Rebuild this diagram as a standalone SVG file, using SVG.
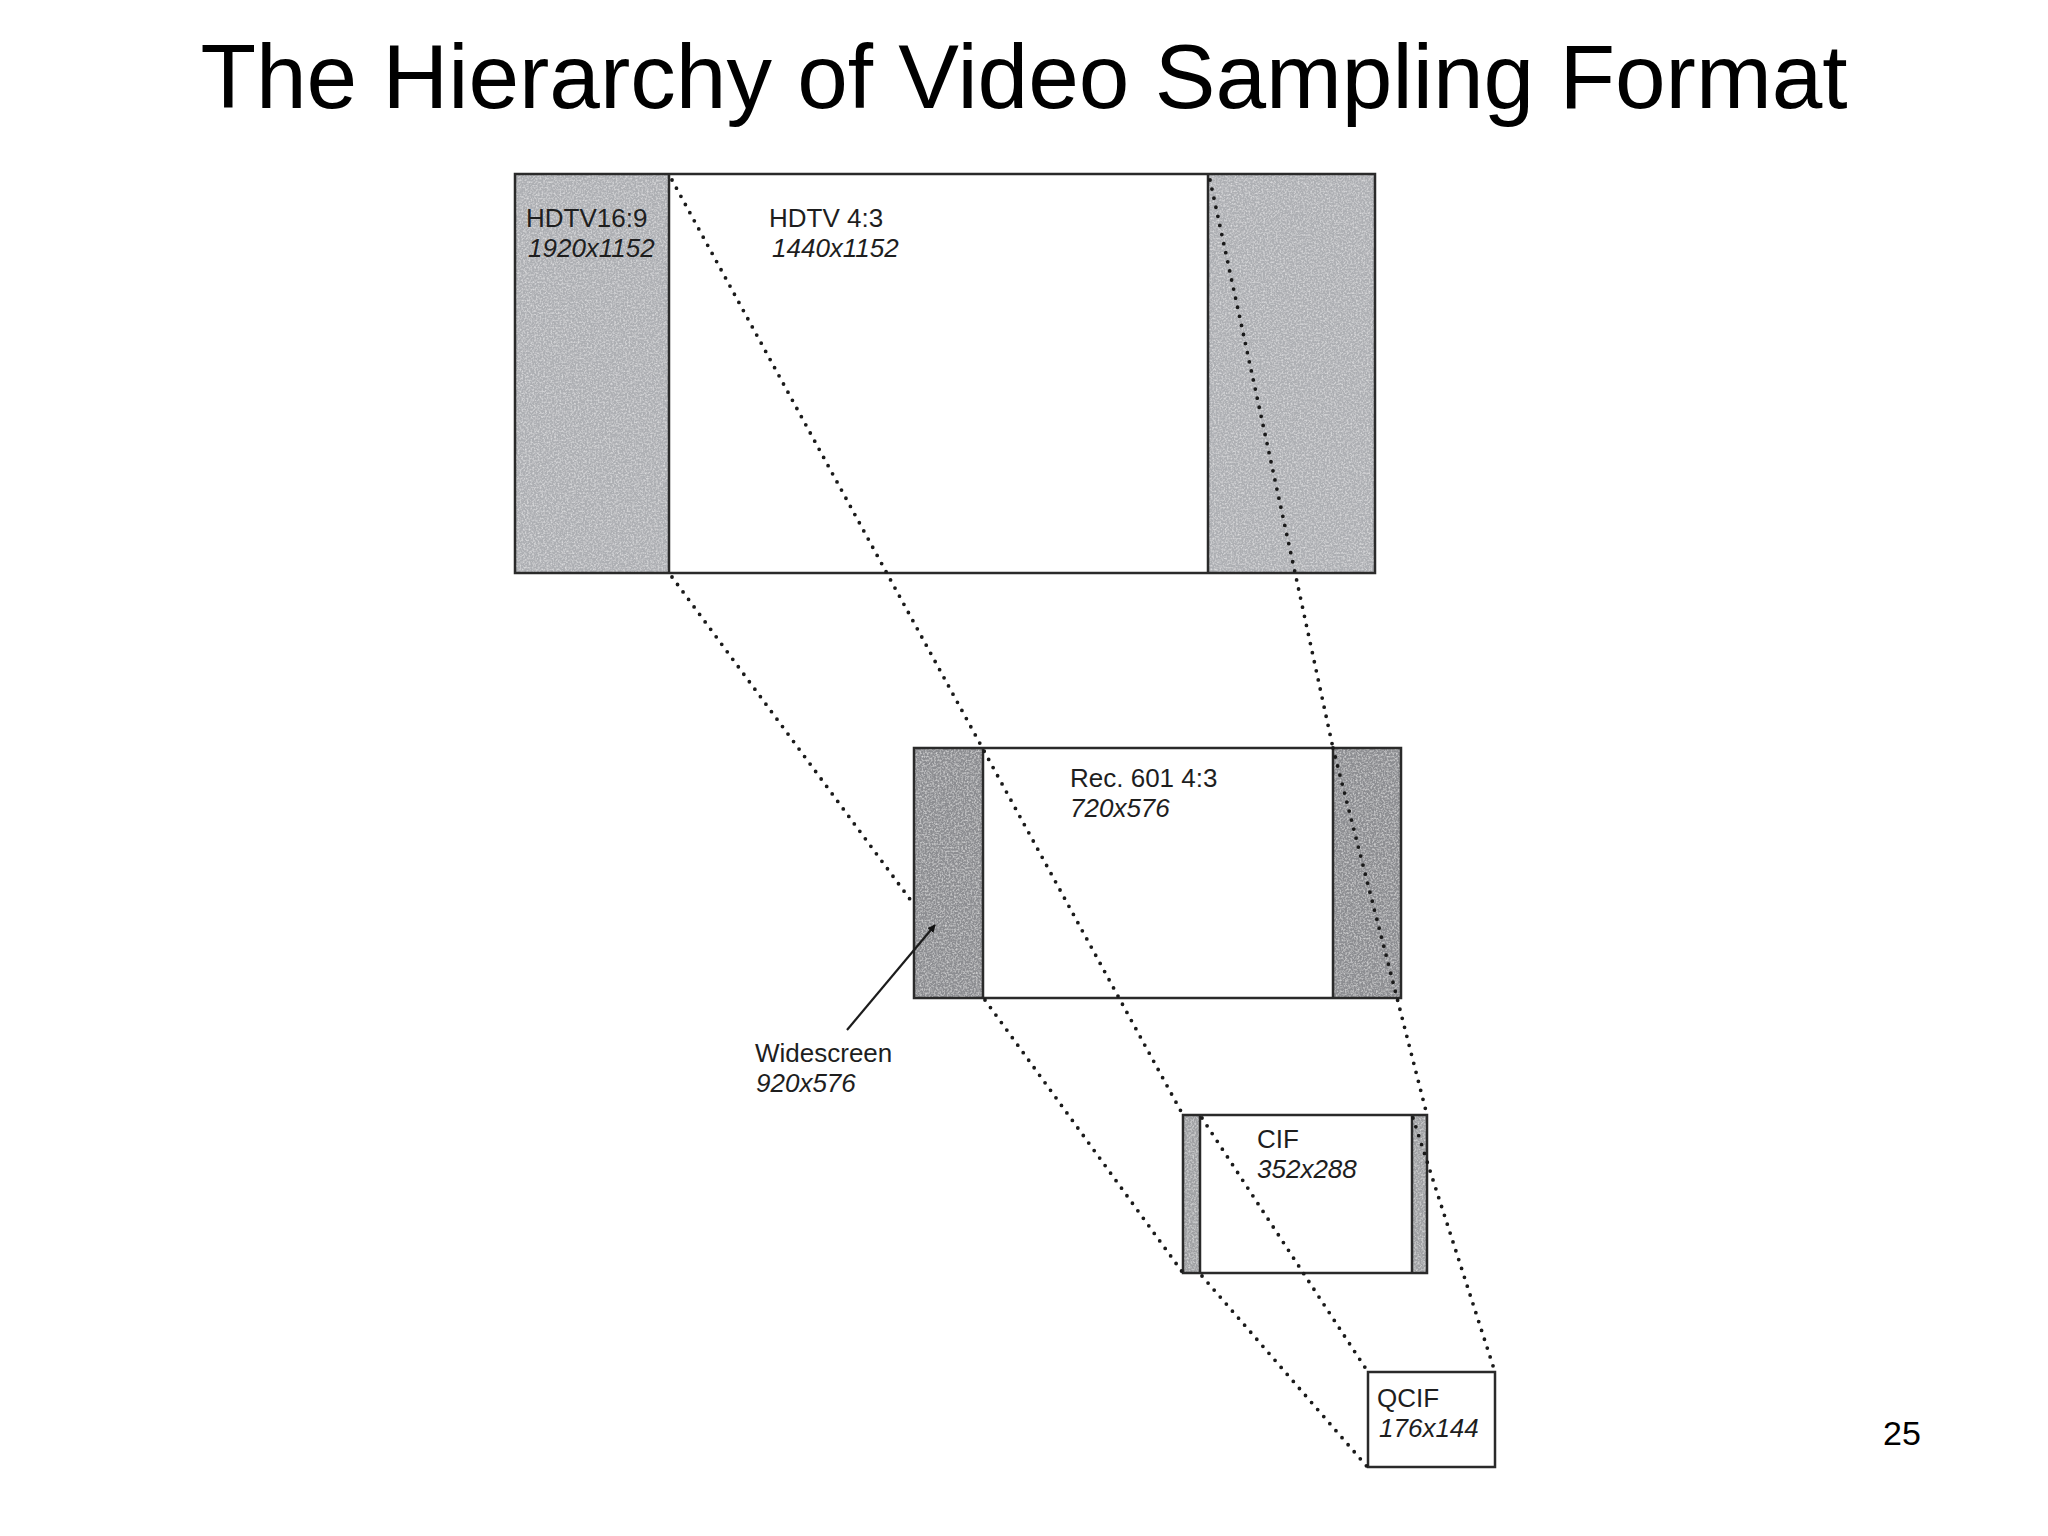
<svg xmlns="http://www.w3.org/2000/svg" width="2048" height="1536" viewBox="0 0 2048 1536">
  <defs>
    <style>
      .title { font-family: "Liberation Sans", Arial, sans-serif; font-size: 91px; fill: #000; }
      .page { font-family: "Liberation Sans", Arial, sans-serif; font-size: 34px; fill: #000; }
      .lbl { font-family: "Liberation Sans", Arial, sans-serif; font-size: 26px; fill: #1e1e1e; }
      .dim { font-style: italic; }
      .frame { fill: none; stroke: #2a2a2a; stroke-width: 2.5; }
      .white { fill: #fff; }
      .edge { stroke: #2a2a2a; stroke-width: 2.5; }
      .bandL { fill: #adafb3; filter: url(#grain); }
      .bandD { fill: #8c8d91; filter: url(#grain); }
      .bandM { fill: #9fa0a3; filter: url(#grain); }
      .dot { fill: none; stroke: #1a1a1a; stroke-width: 3.8; stroke-linecap: round; stroke-dasharray: 0 9.3; }
      .arrow { fill: none; stroke: #1c1c1c; stroke-width: 2.2; }
    </style>
    <filter id="grain" x="0" y="0" width="100%" height="100%">
      <feTurbulence type="fractalNoise" baseFrequency="0.55" numOctaves="2" seed="7" result="n"/>
      <feColorMatrix in="n" type="matrix" values="0 0 0 0 1  0 0 0 0 1  0 0 0 0 1  0 0 0 1.1 -0.45" result="w"/>
      <feComposite in="w" in2="SourceGraphic" operator="in" result="wi"/>
      <feMerge>
        <feMergeNode in="SourceGraphic"/>
        <feMergeNode in="wi"/>
      </feMerge>
    </filter>
    <marker id="head" viewBox="0 0 10 10" refX="9" refY="5" markerWidth="8" markerHeight="8" markerUnits="userSpaceOnUse" orient="auto">
      <path d="M0,0 L10,5 L0,10 z" fill="#111"/>
    </marker>
  </defs>

  <rect width="2048" height="1536" fill="#fff"/>

  <text class="title" x="1024" y="108" text-anchor="middle">The Hierarchy of Video Sampling Format</text>

  <g id="hdtv">
    <rect class="white" x="515" y="174" width="860" height="399"/>
    <rect class="bandL" x="515" y="174" width="154" height="399"/>
    <rect class="bandL" x="1208" y="174" width="167" height="399"/>
    <line class="edge" x1="669" y1="174" x2="669" y2="573"/>
    <line class="edge" x1="1208" y1="174" x2="1208" y2="573"/>
    <rect class="frame" x="515" y="174" width="860" height="399"/>
    <text class="lbl" x="526" y="227">HDTV16:9</text>
    <text class="lbl dim" x="528" y="257">1920x1152</text>
    <text class="lbl" x="769" y="227">HDTV 4:3</text>
    <text class="lbl dim" x="772" y="257">1440x1152</text>
  </g>

  <g id="rec601">
    <rect class="white" x="914" y="748" width="487" height="250"/>
    <rect class="bandD" x="914" y="748" width="69" height="250"/>
    <rect class="bandD" x="1333" y="748" width="68" height="250"/>
    <line class="edge" x1="983" y1="748" x2="983" y2="998"/>
    <line class="edge" x1="1333" y1="748" x2="1333" y2="998"/>
    <rect class="frame" x="914" y="748" width="487" height="250"/>
    <text class="lbl" x="1070" y="787">Rec. 601 4:3</text>
    <text class="lbl dim" x="1070" y="817">720x576</text>
  </g>

  <g id="widescreen">
    <text class="lbl" x="755" y="1062">Widescreen</text>
    <text class="lbl dim" x="756" y="1092">920x576</text>
  </g>

  <g id="cif">
    <rect class="white" x="1183" y="1115" width="244" height="158"/>
    <rect class="bandM" x="1183" y="1115" width="17" height="158"/>
    <rect class="bandM" x="1412" y="1115" width="15" height="158"/>
    <line class="edge" x1="1200" y1="1115" x2="1200" y2="1273"/>
    <line class="edge" x1="1412" y1="1115" x2="1412" y2="1273"/>
    <rect class="frame" x="1183" y="1115" width="244" height="158"/>
    <text class="lbl" x="1257" y="1148">CIF</text>
    <text class="lbl dim" x="1257" y="1178">352x288</text>
  </g>

  <g id="qcif">
    <rect class="white" x="1368" y="1372" width="127" height="95"/>
    <rect class="frame" x="1368" y="1372" width="127" height="95"/>
    <text class="lbl" x="1377" y="1407">QCIF</text>
    <text class="lbl dim" x="1379" y="1437">176x144</text>
  </g>

  <g id="connectors">
    <line class="dot" x1="672" y1="180" x2="1183" y2="1115"/>
    <line class="dot" x1="1210" y1="180" x2="1333" y2="748"/>
    <line class="dot" x1="1333" y1="748" x2="1427" y2="1115"/>
    <line class="dot" x1="672" y1="577" x2="912" y2="902"/>
    <line class="dot" x1="985" y1="1000" x2="1183" y2="1273"/>
    <line class="dot" x1="1202" y1="1118" x2="1368" y2="1372"/>
    <line class="dot" x1="1413" y1="1118" x2="1495" y2="1372"/>
    <line class="dot" x1="1202" y1="1276" x2="1370" y2="1470"/>
    <line class="arrow" x1="847" y1="1030" x2="935" y2="925" marker-end="url(#head)"/>
  </g>

  <text class="page" x="1883" y="1445">25</text>
</svg>
